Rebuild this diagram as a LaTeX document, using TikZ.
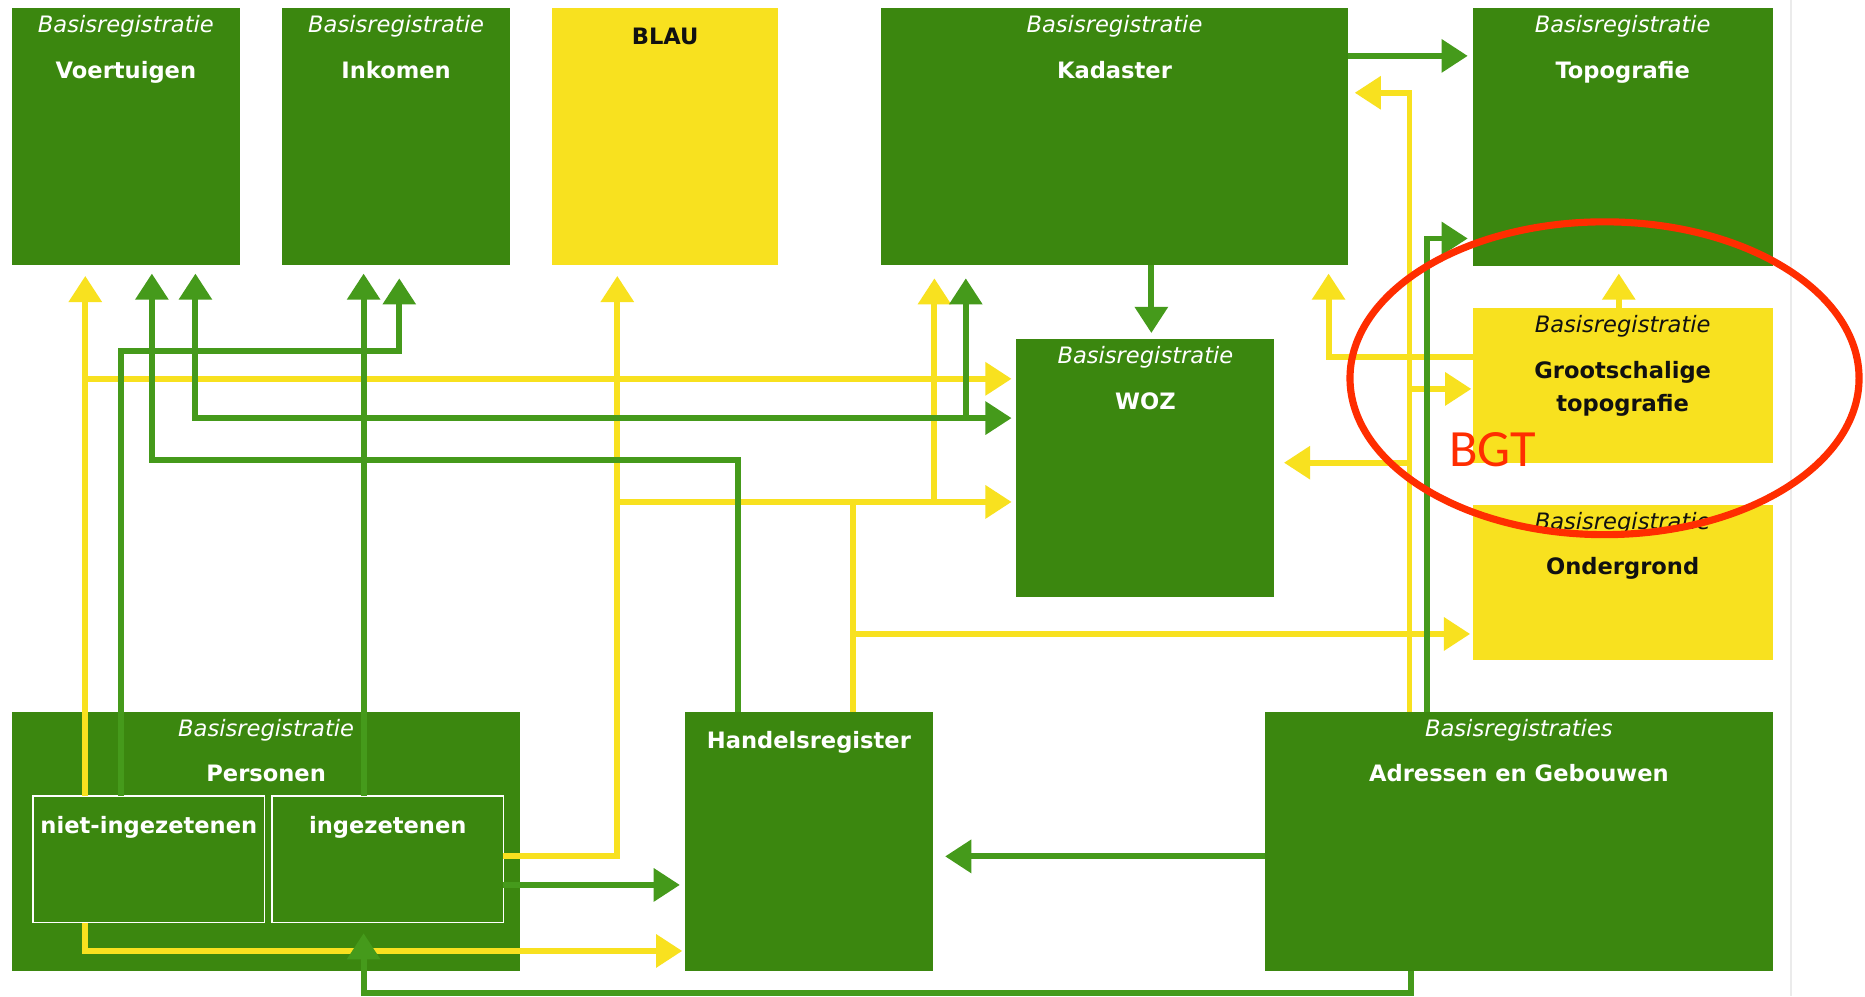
\documentclass[tikz,border=0pt]{standalone}
\usepackage{fontspec}
\setmainfont{DejaVu Sans}
\newfontfamily\bgtfont{Carlito}
\usetikzlibrary{arrows.meta}
\definecolor{bgreen}{HTML}{3B870F}
\definecolor{lgreen}{HTML}{459A1B}
\definecolor{byellow}{HTML}{F8E11F}
\definecolor{bred}{HTML}{FF2D00}
\definecolor{txtdark}{HTML}{111111}
\begin{document}
\begin{tikzpicture}[x=1pt,y=-1pt,
  gbox/.style={fill=bgreen, draw=none, anchor=north west, inner sep=0pt, outer sep=0pt},
  ybox/.style={fill=byellow, draw=none, anchor=north west, inner sep=0pt, outer sep=0pt},
  subbox/.style={draw=white, line width=1.5pt, fill=none, anchor=north west, inner sep=0pt, outer sep=0pt},
  itxt/.style={font=\fontsize{19}{19}\selectfont\itshape, anchor=base, inner sep=0pt, text=white},
  btxt/.style={font=\fontsize{19}{19}\selectfont\bfseries, anchor=base, inner sep=0pt, text=white},
  dark/.style={text=txtdark},
  yl/.style={draw=byellow, line width=5pt},
  gl/.style={draw=lgreen, line width=5pt},
  arr/.style={-{Triangle[length=22pt,width=27pt]}},
  darr/.style={{Triangle[length=22pt,width=27pt]}-{Triangle[length=22pt,width=27pt]}},
  tipgap/.style={shorten >=#1pt},
  tailgap/.style={shorten <=#1pt},
]
\fill[white] (0,0) rectangle (1568,837.4);
\useasboundingbox (0,0) rectangle (1568,837.4);
\draw[black!8, line width=1.5pt] (1506,0) -- (1506,837.4);

% boxes
\node[gbox, minimum width=191.7pt, minimum height=216.5pt] (voer) at (10,6.5) {};
\node[gbox, minimum width=192pt, minimum height=216.5pt] (ink) at (237,6.5) {};
\node[ybox, minimum width=190.5pt, minimum height=216.5pt] (blau) at (464,6.5) {};
\node[gbox, minimum width=392pt, minimum height=216.5pt] (kad) at (741,6.5) {};
\node[gbox, minimum width=252.5pt, minimum height=217.5pt] (topo) at (1238,6.5) {};
\node[gbox, minimum width=217pt, minimum height=217pt] (woz) at (854.5,285) {};
\node[ybox, minimum width=252.5pt, minimum height=130pt] (gt) at (1238,259) {};
\node[ybox, minimum width=252.5pt, minimum height=130.3pt] (ond) at (1238,424.6) {};
\node[gbox, minimum width=427.5pt, minimum height=217.7pt] (pers) at (10,598.3) {};
\node[gbox, minimum width=209pt, minimum height=217.7pt] (hr) at (575.6,598.3) {};
\node[gbox, minimum width=427pt, minimum height=217.7pt] (adr) at (1063.5,598.3) {};
\node[subbox, minimum width=194.3pt, minimum height=106.6pt] (niet) at (28,669) {};
\node[subbox, minimum width=194.6pt, minimum height=106.6pt] (inz) at (228.7,669) {};

% texts
\node[itxt] (voerA) at ([yshift=-20.5pt]voer.north) {Basisregistratie};
\node[btxt] (voerB) at ([yshift=-59.5pt]voer.north) {Voertuigen};
\node[itxt] (inkA) at ([yshift=-20.5pt]ink.north) {Basisregistratie};
\node[btxt] (inkB) at ([yshift=-59.5pt]ink.north) {Inkomen};
\node[btxt, dark] (blauB) at ([yshift=-30.8pt]blau.north) {BLAU};
\node[itxt] (kadA) at ([yshift=-20.5pt]kad.north) {Basisregistratie};
\node[btxt] (kadB) at ([yshift=-59.5pt]kad.north) {Kadaster};
\node[itxt] (topoA) at ([yshift=-20.5pt]topo.north) {Basisregistratie};
\node[btxt] (topoB) at ([yshift=-59.5pt]topo.north) {Topografie};
\node[itxt] (wozA) at ([yshift=-20.5pt]woz.north) {Basisregistratie};
\node[btxt] (wozB) at ([yshift=-59.5pt]woz.north) {WOZ};
\node[itxt, dark] (gtA) at ([yshift=-20.5pt]gt.north) {Basisregistratie};
\node[btxt, dark] (gtB) at ([yshift=-59pt]gt.north) {Grootschalige};
\node[btxt, dark] (gtC) at ([yshift=-87pt]gt.north) {topografie};
\node[itxt, dark] (ondA) at ([yshift=-20.5pt]ond.north) {Basisregistratie};
\node[btxt, dark] (ondB) at ([yshift=-58.8pt]ond.north) {Ondergrond};
\node[itxt] (persA) at ([yshift=-20.7pt]pers.north) {Basisregistratie};
\node[btxt] (persB) at ([yshift=-58.7pt]pers.north) {Personen};
\node[btxt] (nietB) at ([yshift=-32pt]niet.north) {niet-ingezetenen};
\node[btxt] (inzB) at ([yshift=-32pt]inz.north) {ingezetenen};
\node[btxt] (hrB) at ([yshift=-30.7pt]hr.north) {Handelsregister};
\node[itxt] (adrA) at ([yshift=-20.7pt]adr.north) {Basisregistraties};
\node[btxt] (adrB) at ([yshift=-58.7pt]adr.north) {Adressen en Gebouwen};

% tracks and levels
\coordinate (Tya) at (71.7,0);
\coordinate (Tga) at (101.7,0);
\coordinate (Tgb) at (127.7,0);
\coordinate (Tgc) at (164.3,0);
\coordinate (Tgd) at (305.7,0);
\coordinate (Tge) at (335.7,0);
\coordinate (Tyb) at (519,0);
\coordinate (Tgf) at (620.5,0);
\coordinate (Tyc) at (717,0);
\coordinate (Tyd) at (785.6,0);
\coordinate (Tgg) at (812,0);
\coordinate (Tgh) at (968,0);
\coordinate (Tye) at (1117,0);
\coordinate (Tyf) at (1185,0);
\coordinate (Tgj) at (1186,0);
\coordinate (Tgi) at (1199.5,0);
\coordinate (Tyg) at (1361,0);
\coordinate (L47) at (0,47);
\coordinate (L78) at (0,78);
\coordinate (L200) at (0,200.5);
\coordinate (L295) at (0,295);
\coordinate (L300) at (0,300);
\coordinate (L318) at (0,318.5);
\coordinate (L327) at (0,327);
\coordinate (L351) at (0,351.5);
\coordinate (L386) at (0,386.5);
\coordinate (L389) at (0,389);
\coordinate (L422) at (0,422);
\coordinate (L533) at (0,533);
\coordinate (L720) at (0,720);
\coordinate (L744) at (0,744);
\coordinate (L799) at (0,799.5);
\coordinate (L835) at (0,834.5);

% yellow connectors
\draw[yl, arr, tipgap=9] (niet.north -| Tya) -- (voer.south -| Tya);
\draw[yl, arr, tipgap=4] (Tya |- L318) -- (woz.west |- L318);
\draw[yl, arr, tipgap=2] (niet.south -| Tya) |- (hr.west |- L799);
\draw[yl, arr, tipgap=9] (inz.east |- L720) -| (blau.south -| Tyb);
\draw[yl, arr, tipgap=4] (Tyb |- L422) -- (woz.west |- L422);
\draw[yl, arr, tipgap=11] (Tyd |- L422) -- (kad.south -| Tyd);
\draw[yl] (hr.north -| Tyc) -- (Tyc |- L422);
\draw[yl, arr, tipgap=2] (Tyc |- L533) -- (ond.west |- L533);
\draw[yl, arr, tipgap=7] (gt.west |- L300) -| (kad.south -| Tye);
\draw[yl, arr, tipgap=6] (gt.north -| Tyg) -- (topo.south -| Tyg);
\draw[yl, arr, tipgap=6] (adr.north -| Tyf) |- (kad.east |- L78);
\draw[yl, arr, tipgap=1] (Tyf |- L327) -- (gt.west |- L327);
\draw[yl, arr, tipgap=8] (Tyf |- L389) -- (woz.east |- L389);

% green connectors
\draw[gl, arr, tipgap=4] (kad.east |- L47) -- (topo.west |- L47);
\draw[gl, arr, tipgap=5] (kad.south -| Tgh) -- (woz.north -| Tgh);
\draw[gl, arr, tipgap=4] (adr.north -| Tgi) |- (topo.west |- L200);
\draw[gl, arr, tipgap=10] (adr.west |- L720) -- (hr.east |- L720);
\draw[gl, arr, tipgap=9] (adr.south -| Tgj) |- (Tgd |- L835) -- (inz.south -| Tgd);
\draw[gl, arr, tipgap=4] (inz.east |- L744) -- (hr.west |- L744);
\draw[gl, arr, tipgap=7] (inz.north -| Tgd) -- (ink.south -| Tgd);
\draw[gl, arr, tipgap=11] (niet.north -| Tga) |- (Tge |- L295) -- (ink.south -| Tge);
\draw[gl, arr, tipgap=7] (hr.north -| Tgf) |- (Tgb |- L386) -- (voer.south -| Tgb);
\draw[gl, darr, tipgap=4, tailgap=7] (voer.south -| Tgc) |- (woz.west |- L351);
\draw[gl, arr, tipgap=11] (Tgg |- L351) -- (kad.south -| Tgg);

% highlight
\draw[bred, line width=6pt] (1349,318) ellipse [x radius=214pt, y radius=131.5pt];
\node[font=\bgtfont\fontsize{44}{44}\selectfont, text=bred, anchor=base, inner sep=0pt] (bgt) at (1255,392) {BGT};
\end{tikzpicture}
\end{document}
